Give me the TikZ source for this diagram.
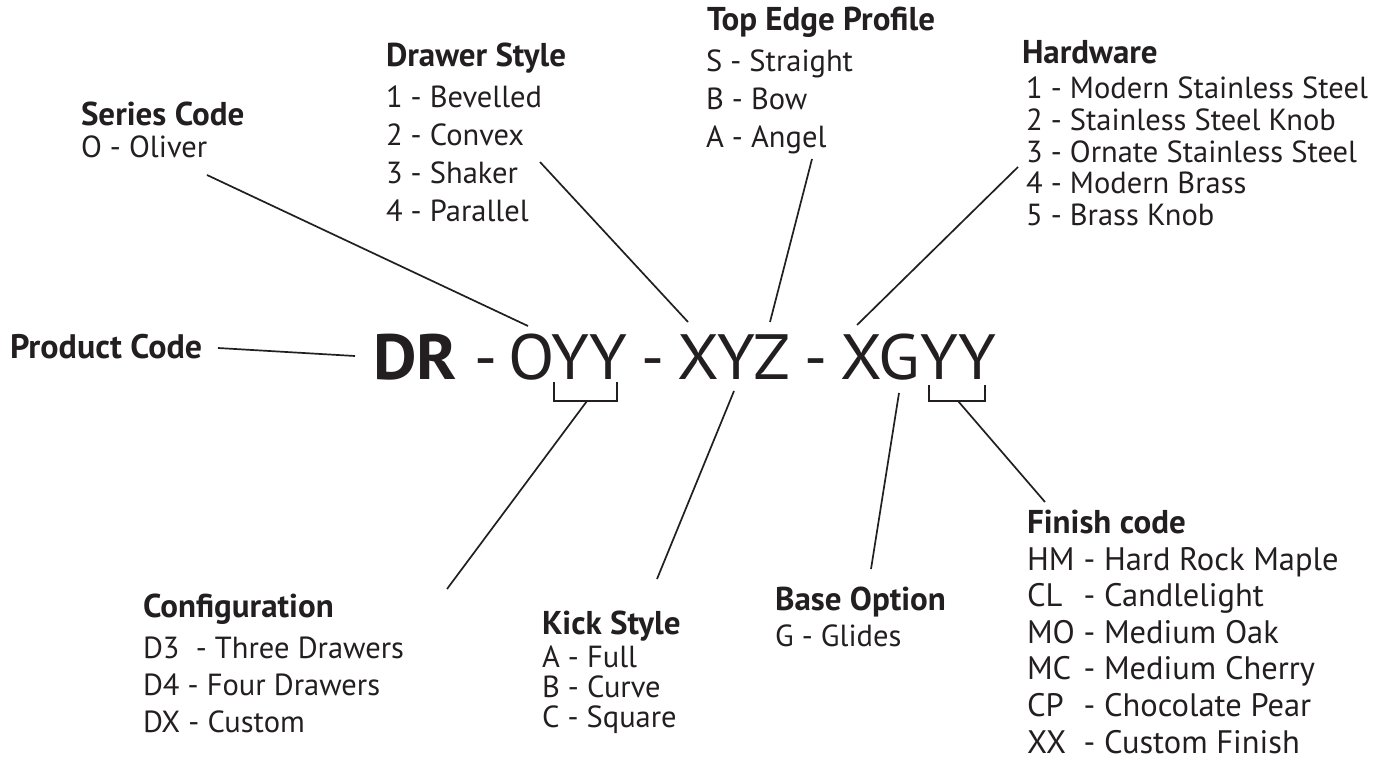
\documentclass[tikz,border=0pt]{standalone}
\usepackage{fontspec}
\setmainfont{PT Sans}
\usepackage{graphicx}
\definecolor{ink}{HTML}{231F20}
\newcommand\rowlist[2]{\vtop{\baselineskip=#1pt\lineskiplimit=-1000pt\lineskip=0pt\halign{##\hfil\cr#2\crcr}}}
\newcommand\rowlistii[2]{\vtop{\baselineskip=#1pt\lineskiplimit=-1000pt\lineskip=0pt\halign{##\hfil&##\hfil\cr#2\crcr}}}
\newcommand\wide[1]{\scalebox{1.06}[1]{#1}}
\begin{document}
\begin{tikzpicture}[x=1pt,y=-1pt,
  every node/.style={inner sep=0pt,outer sep=0pt,text=ink},
  hd/.style={font=\bfseries\fontsize{33}{33}\selectfont,anchor=base west},
  it/.style={font=\fontsize{30.5}{30.5}\selectfont,anchor=base west},
  code/.style={font=\fontsize{64}{64}\selectfont,anchor=base west},
  link/.style={line width=1.7pt,draw=ink}]
\useasboundingbox (0,0) rectangle (1388,765);
\fill[white] (0,0) rectangle (1388,765);

% main code
\node[code,font=\bfseries\fontsize{64}{64}\selectfont] (dr) at (373,379) {\scalebox{1.05}[1]{DR}};
\node[code] (h1) at (474,379) {-};
\node[code] (oyy) at (508,379) {\wide{OYY}};
\node[code] (h2) at (641,379) {-};
\node[code] (xyz) at (677,379) {\wide{XYZ}};
\node[code] (h3) at (804,379) {-};
\node[code] (xgyy) at (840,379) {\wide{XGYY}};

% blocks
\node[hd] (sch) at (81,125) {Series Code};
\node[it] (sci) at (81,157) {O - Oliver};

\node[hd] (dsh) at (386,67) {Drawer Style};
\node[it] (dsi) at (386,107) {\rowlist{38}{1 - Bevelled\cr 2 - Convex\cr 3 - Shaker\cr 4 - Parallel}};

\node[hd] (teh) at (707,31) {Top Edge Profile};
\node[it] (tei) at (706,72) {\rowlist{38}{S - Straight\cr B - Bow\cr A - Angel}};

\node[hd] (hwh) at (1022,64) {Hardware};
\node[it] (hwi) at (1026,99) {\rowlist{31.6}{1 - Modern Stainless Steel\cr 2 - Stainless Steel Knob\cr 3 - Ornate Stainless Steel\cr 4 - Modern Brass\cr 5 - Brass Knob}};

\node[hd,font=\bfseries\fontsize{34}{34}\selectfont] (pch) at (10,358) {Product Code};

\node[hd] (cfh) at (143,617) {Configuration};
\node[it] (cfi) at (143,658) {\rowlist{37}{D3\ \ - Three Drawers\cr D4 - Four Drawers\cr DX - Custom}};

\node[hd] (ksh) at (542,634) {Kick Style};
\node[it] (ksi) at (542,667) {\rowlist{30}{A - Full\cr B - Curve\cr C - Square}};

\node[hd] (boh) at (775,610) {Base Option};
\node[it] (boi) at (775,646) {G - Glides};

\node[hd] (fch) at (1027,533) {Finish code};
\node[it,font=\fontsize{32.5}{32.5}\selectfont] (fci) at (1027,570) {\rowlistii{36.6}{HM\ &- Hard Rock Maple\cr CL\ &- Candlelight\cr MO\ &- Medium Oak\cr MC\ &- Medium Cherry\cr CP\ &- Chocolate Pear\cr XX\ &- Custom Finish}};

% connector end points
\coordinate (sc-a) at (207,175); \coordinate (sc-b) at (528,326);
\coordinate (ds-a) at (540,162); \coordinate (ds-b) at (688,322);
\coordinate (te-a) at (812,159); \coordinate (te-b) at (770,322);
\coordinate (hw-a) at (1018,167); \coordinate (hw-b) at (857,325);
\coordinate (pc-a) at (218,348); \coordinate (pc-b) at (355,356);
\coordinate (b1-l) at (554,382); \coordinate (b1-r) at (617,382);
\coordinate (b1-m) at (587,401); \coordinate (cf-a) at (447,589);
\coordinate (ks-a) at (734,391); \coordinate (ks-b) at (657,579);
\coordinate (bo-a) at (899,393); \coordinate (bo-b) at (871,569);
\coordinate (b2-l) at (929,385); \coordinate (b2-r) at (985,385);
\coordinate (b2-m) at (958,401); \coordinate (fc-a) at (1045,502);

\draw[link] (sc-a) -- (sc-b);
\draw[link] (ds-a) -- (ds-b);
\draw[link] (te-a) -- (te-b);
\draw[link] (hw-a) -- (hw-b);
\draw[link] (pc-a) -- (pc-b);
\draw[link] (b1-l) |- (b1-m) -| (b1-r);
\draw[link] (b1-m) -- (cf-a);
\draw[link] (ks-a) -- (ks-b);
\draw[link] (bo-a) -- (bo-b);
\draw[link] (b2-l) |- (b2-m) -| (b2-r);
\draw[link] (b2-m) -- (fc-a);
\end{tikzpicture}
\end{document}
